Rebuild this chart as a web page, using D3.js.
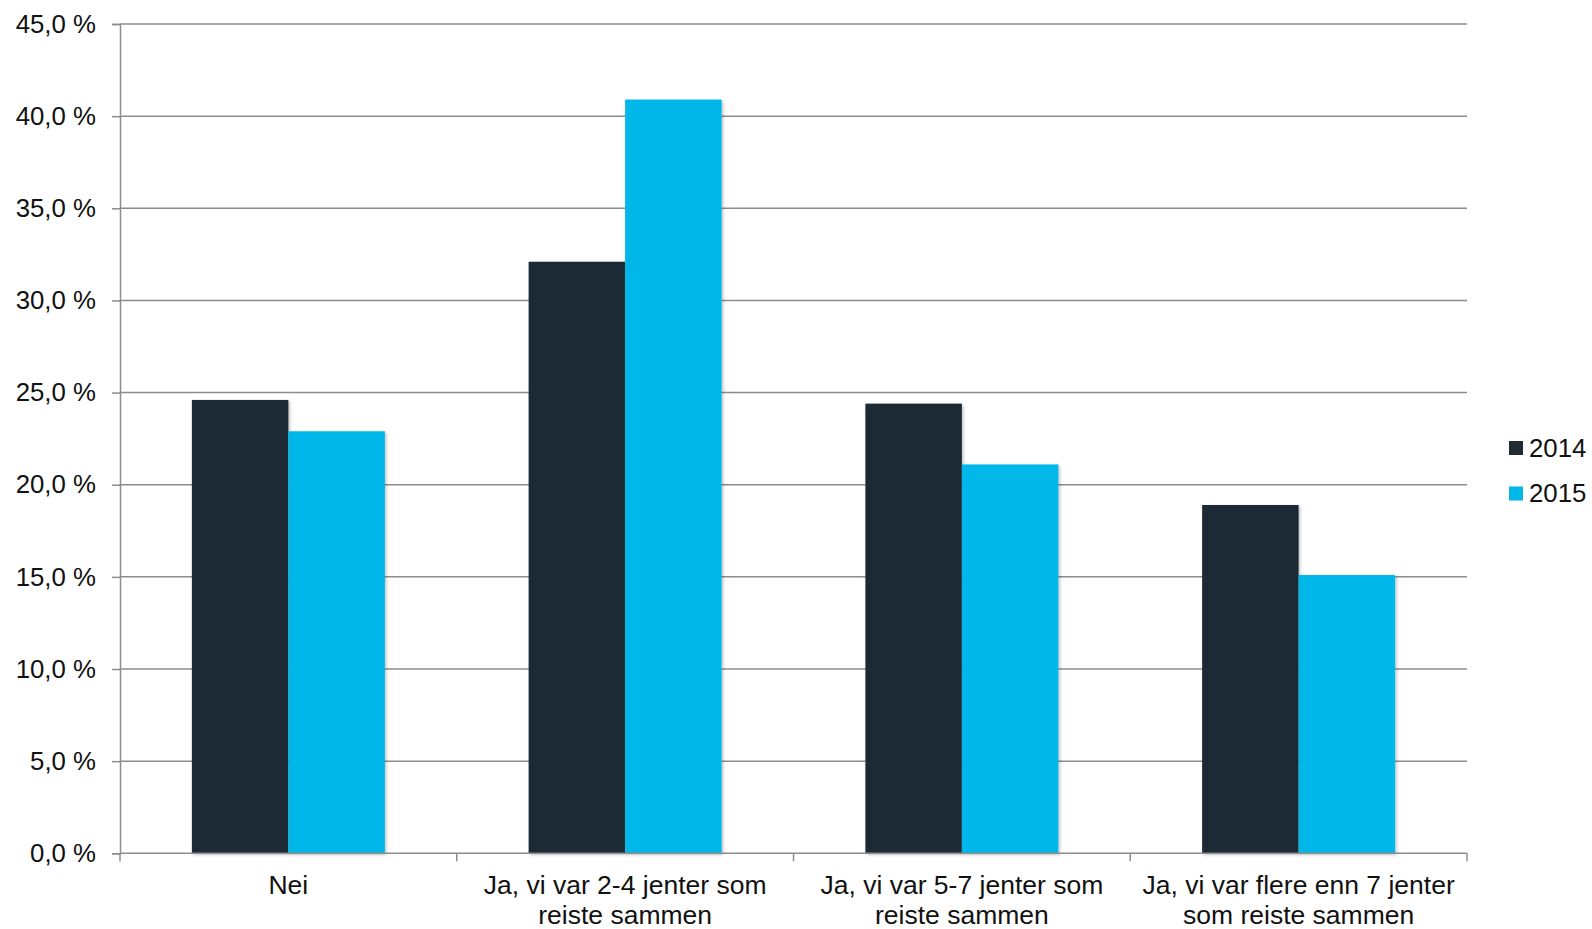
<!DOCTYPE html>
<html>
<head>
<meta charset="utf-8">
<script src="https://cdn.jsdelivr.net/npm/d3@7/dist/d3.min.js"></script>
<style>
  html, body { margin: 0; padding: 0; background: #fff; }
  svg { display: block; font-family: "Liberation Sans", Arial, sans-serif; }
</style>
</head>
<body>
<svg id="chart" width="1592" height="929"></svg>
<script>
// Category labels, split into the lines they are printed on
const categories = ["Nei", "2-4", "5-7", "7+"];
const categoryLines = [
  ["Nei"],
  ["Ja, vi var 2-4 jenter som", "reiste sammen"],
  ["Ja, vi var 5-7 jenter som", "reiste sammen"],
  ["Ja, vi var flere enn 7 jenter", "som reiste sammen"]
];
const seriesNames = ["2014", "2015"];
const values2014 = [24.6, 32.1, 24.4, 18.9];
const values2015 = [22.9, 40.9, 21.1, 15.1];
const yTicks = [0, 5, 10, 15, 20, 25, 30, 35, 40, 45];
const colors = ["#1F2C35", "#00B7EA"];

const FONT = 25.8;
const svg = d3.select("#chart");
const margin = { left: 120, right: 1467, top: 24, bottom: 853.3 };

const x = d3.scaleBand().domain(categories).range([margin.left, margin.right]);
const x1 = d3.scaleBand().domain(seriesNames).range([0, 193]);
const y = d3.scaleLinear().domain([0, 45]).range([margin.bottom, margin.top]);

const defs = svg.append("defs");
const f = defs.append("filter").attr("id", "shadow")
  .attr("x", "-10%").attr("y", "-10%").attr("width", "130%").attr("height", "130%");
f.append("feDropShadow").attr("dx", 1.5).attr("dy", 1.5).attr("stdDeviation", 1.5)
  .attr("flood-color", "#000").attr("flood-opacity", 0.25);

// Horizontal gridlines
svg.append("g").selectAll("line").data(yTicks.slice(1)).join("line")
  .attr("x1", margin.left).attr("x2", margin.right)
  .attr("y1", d => y(d)).attr("y2", d => y(d))
  .attr("stroke", "#8C8C8C").attr("stroke-width", 1.5);

// Bars
const series = [values2014, values2015];
const groups = svg.append("g").selectAll("g").data(categories).join("g")
  .attr("transform", c => `translate(${x(c) + (x.bandwidth() - 193) / 2},0)`);
groups.selectAll("rect")
  .data((c, i) => seriesNames.map((s, j) => ({ s, v: series[j][i], j })))
  .join("rect")
  .attr("x", d => x1(d.s))
  .attr("width", x1.bandwidth())
  .attr("y", d => y(d.v))
  .attr("height", d => y(0) - y(d.v))
  .attr("fill", d => colors[d.j])
  .attr("filter", "url(#shadow)");

// Y axis
const yAxis = svg.append("g")
  .attr("transform", `translate(${margin.left},0)`)
  .call(d3.axisLeft(y).tickValues(yTicks).tickSize(8).tickPadding(16)
    .tickFormat(d => d3.format(".1f")(d).replace(".", ",") + " %"));
yAxis.select(".domain").attr("stroke", "#8C8C8C").attr("stroke-width", 1.5);
yAxis.selectAll(".tick line").attr("stroke", "#8C8C8C").attr("stroke-width", 1.5);
yAxis.selectAll(".tick text").attr("font-size", FONT).attr("fill", "#111")
  .attr("font-family", "Liberation Sans, Arial, sans-serif");

// X axis line with ticks at band boundaries
const xg = svg.append("g");
xg.append("line").attr("x1", margin.left).attr("x2", margin.right)
  .attr("y1", y(0)).attr("y2", y(0)).attr("stroke", "#8C8C8C").attr("stroke-width", 1.5);
const bounds = categories.map(c => x(c)).concat([x(categories[categories.length - 1]) + x.bandwidth()]);
xg.selectAll("line.tk").data(bounds).join("line").attr("class", "tk")
  .attr("x1", d => d).attr("x2", d => d)
  .attr("y1", y(0)).attr("y2", y(0) + 8)
  .attr("stroke", "#8C8C8C").attr("stroke-width", 1.5);

// Category labels
const labels = svg.append("g").selectAll("text").data(categories).join("text")
  .attr("x", c => x(c) + x.bandwidth() / 2)
  .attr("y", 894)
  .attr("text-anchor", "middle")
  .attr("font-size", 26.5).attr("fill", "#111");
labels.selectAll("tspan").data((c, i) => categoryLines[i]).join("tspan")
  .attr("x", function () { return d3.select(this.parentNode).attr("x"); })
  .attr("dy", (d, i) => i === 0 ? 0 : 30)
  .text(d => d);

// Legend
const legend = svg.append("g").selectAll("g").data(seriesNames).join("g")
  .attr("transform", (d, i) => `translate(1509,${441 + i * 45.5})`);
legend.append("rect").attr("width", 14).attr("height", 14)
  .attr("fill", (d, i) => colors[i]);
legend.append("text").attr("x", 20).attr("y", 15.5)
  .attr("font-size", FONT).attr("fill", "#111").text(d => d);
</script>
</body>
</html>
